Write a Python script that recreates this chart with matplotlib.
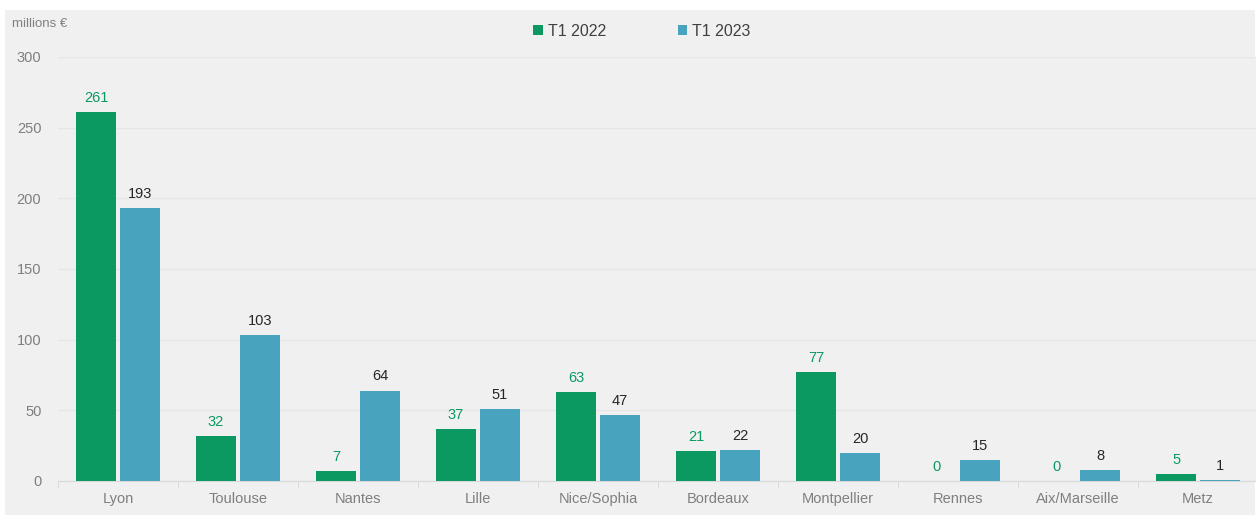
import matplotlib.pyplot as plt
import numpy as np
from matplotlib.patches import Rectangle

plt.rcParams['font.family'] = ['Liberation Sans', 'DejaVu Sans']

villes = ['Lyon', 'Toulouse', 'Nantes', 'Lille', 'Nice/Sophia', 'Bordeaux',
          'Montpellier', 'Rennes', 'Aix/Marseille', 'Metz']
t1_2022 = [261, 32, 7, 37, 63, 21, 77, 0, 0, 5]
t1_2023 = [193, 103, 64, 51, 47, 22, 20, 15, 8, 1]

vert = '#0b9961'
bleu = '#48a3bf'
fond = '#f0f0f0'

fig = plt.figure(figsize=(12.56, 5.18), dpi=100)
fig.patch.set_facecolor('white')
# panneau gris derriere le graphique
fig.patches.append(Rectangle((5 / 1256, 3 / 518), 1250 / 1256, 505 / 518,
                             transform=fig.transFigure,
                             facecolor=fond, edgecolor='none', zorder=-10))

ax = fig.add_axes([58 / 1256, (518 - 481) / 518, 1200 / 1256, 424 / 518])
ax.set_facecolor(fond)

x = np.arange(len(villes))
w = 0.333
d = 0.183
ax.bar(x - d, t1_2022, w, color=vert, label='T1 2022', zorder=3)
ax.bar(x + d, t1_2023, w, color=bleu, label='T1 2023', zorder=3)

for i in range(len(villes)):
    ax.text(x[i] - d, t1_2022[i] + 5, str(t1_2022[i]), ha='center', va='bottom',
            color=vert, fontsize=10.5)
    ax.text(x[i] + d, t1_2023[i] + 5, str(t1_2023[i]), ha='center', va='bottom',
            color='#262626', fontsize=10.5)

ax.set_xlim(-0.5, len(villes) - 0.5)
ax.set_ylim(0, 300)
ax.set_yticks(range(0, 301, 50))
ax.yaxis.grid(True, color='#e6e6e6', linewidth=1, zorder=0)
ax.set_axisbelow(True)
for s in ['top', 'right', 'left']:
    ax.spines[s].set_visible(False)
ax.spines['bottom'].set_color('#d9d9d9')
ax.tick_params(axis='y', length=0, labelcolor='#7f7f7f', labelsize=10.5, pad=12)
ax.set_xticks(x)
ax.set_xticklabels(villes)
ax.tick_params(axis='x', length=0, labelcolor='#7f7f7f', labelsize=10.5, pad=8)
ax.set_xticks(np.arange(-0.5, len(villes), 1), minor=True)
ax.tick_params(axis='x', which='minor', length=5, color='#d9d9d9')

fig.text(12 / 1256, 1 - 24 / 518, 'millions €', color='#7f7f7f', fontsize=9.5,
         va='center', ha='left')
leg = fig.legend(loc='center', bbox_to_anchor=(642 / 1256, 1 - 31 / 518), ncol=2,
                 frameon=False, fontsize=11.5, handlelength=0.6, handleheight=0.6,
                 handletextpad=0.3, columnspacing=4.5, labelcolor='#404040')

plt.savefig('out.png', dpi=100)
